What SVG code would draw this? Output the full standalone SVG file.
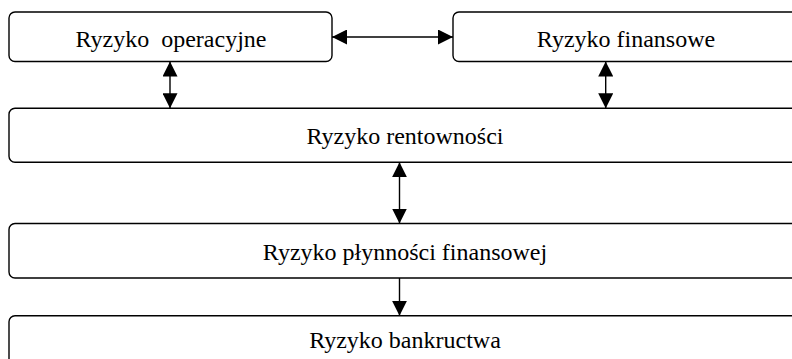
<svg xmlns="http://www.w3.org/2000/svg" width="792" height="359" viewBox="0 0 792 359">
<style>
.box{fill:#fff;stroke:#000;stroke-width:1.4}
.lbl{font-family:"Liberation Serif","Times New Roman",serif;font-size:24px;fill:#000;text-anchor:middle}
.con{stroke:#000;stroke-width:1.4;fill:none}
</style>
<defs>
<marker id="ah" markerUnits="userSpaceOnUse" markerWidth="15" markerHeight="15" viewBox="0 0 15 15" refX="15" refY="7.5" orient="auto-start-reverse">
<path d="M0,0 L15,7.5 L0,15 Z" fill="#000"/>
</marker>
</defs>
<rect width="792" height="359" fill="#fff"/>
<g id="n1"><rect class="box" x="9" y="12" width="323" height="49.5" rx="6"/><text class="lbl" x="171" y="47" xml:space="preserve">Ryzyko  operacyjne</text></g>
<g id="n2"><rect class="box" x="453" y="12" width="347" height="49.5" rx="6"/><text class="lbl" x="626" y="47">Ryzyko finansowe</text></g>
<g id="n3"><rect class="box" x="9" y="108.3" width="792" height="54" rx="6"/><text class="lbl" x="405" y="144.3">Ryzyko rentowności</text></g>
<g id="n4"><rect class="box" x="9" y="223.5" width="792" height="54.5" rx="6"/><text class="lbl" x="405" y="260">Ryzyko płynności finansowej</text></g>
<g id="n5"><rect class="box" x="9" y="315.7" width="792" height="60" rx="6"/><text class="lbl" x="405" y="348.3">Ryzyko bankructwa</text></g>
<g id="connectors">
<line class="con" x1="332" y1="37" x2="453" y2="37" marker-start="url(#ah)" marker-end="url(#ah)"/>
<line class="con" x1="170" y1="61.5" x2="170" y2="108.3" marker-start="url(#ah)" marker-end="url(#ah)"/>
<line class="con" x1="605.7" y1="61.5" x2="605.7" y2="108.3" marker-start="url(#ah)" marker-end="url(#ah)"/>
<line class="con" x1="399.5" y1="162.3" x2="399.5" y2="223.5" marker-start="url(#ah)" marker-end="url(#ah)"/>
<line class="con" x1="399.5" y1="278" x2="399.5" y2="315.7" marker-end="url(#ah)"/>
</g>
</svg>
